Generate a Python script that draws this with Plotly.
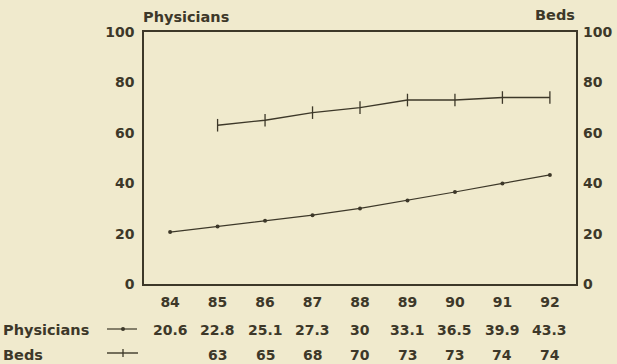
import plotly.graph_objects as go

years = [84, 85, 86, 87, 88, 89, 90, 91, 92]
physicians = [20.6, 22.8, 25.1, 27.3, 30, 33.1, 36.5, 39.9, 43.3]
beds = [None, 63, 65, 68, 70, 73, 73, 74, 74]
physicians_labels = ["20.6", "22.8", "25.1", "27.3", "30", "33.1", "36.5", "39.9", "43.3"]
beds_labels = ["", "63", "65", "68", "70", "73", "73", "74", "74"]
y_ticks = [0, 20, 40, 60, 80, 100]

BG = "#f0eacd"
INK = "#3d3829"
FONT = "DejaVu Sans"

W, H = 617, 364
L, R, T, B = 144, 41, 32, 80
PW, PH = W - L - R, H - T - B


def px(x):
    return (x - L) / PW


def py(y):
    return (H - B - y) / PH


def f(size=14):
    return dict(family=FONT, size=size, color=INK, weight="bold")


fig = go.Figure()
fig.add_trace(go.Scatter(
    x=years, y=physicians, mode="lines+markers", name="Physicians",
    line=dict(color=INK, width=1.2),
    marker=dict(symbol="circle", size=4, color=INK),
))
fig.add_trace(go.Scatter(
    x=years, y=beds, mode="lines+markers", name="Beds", yaxis="y2",
    line=dict(color=INK, width=1.4),
    marker=dict(symbol="line-ns", size=9, line=dict(color=INK, width=1.3)),
))

annotations = []
for yr, p, b in zip(years, physicians_labels, beds_labels):
    annotations.append(dict(x=yr, y=py(330), xref="x", yref="paper", text=p,
                            showarrow=False, xanchor="center", yanchor="middle",
                            font=f(14)))
    if b:
        annotations.append(dict(x=yr, y=py(355), xref="x", yref="paper", text=b,
                                showarrow=False, xanchor="center", yanchor="middle",
                                font=f(14)))

annotations += [
    dict(x=px(1), y=py(330), xref="paper", yref="paper", text="Physicians",
         showarrow=False, xanchor="left", yanchor="middle", font=f(14.5)),
    dict(x=px(1), y=py(355), xref="paper", yref="paper", text="Beds",
         showarrow=False, xanchor="left", yanchor="middle", font=f(14.5)),
    dict(x=px(141), y=py(17), xref="paper", yref="paper", text="Physicians",
         showarrow=False, xanchor="left", yanchor="middle", font=f(14.5)),
    dict(x=px(577), y=py(15), xref="paper", yref="paper", text="Beds",
         showarrow=False, xanchor="right", yanchor="middle", font=f(14.5)),
]

shapes = [
    dict(type="line", xref="paper", yref="paper", x0=px(107), x1=px(137),
         y0=py(329), y1=py(329), line=dict(color=INK, width=1.2)),
    dict(type="circle", xref="paper", yref="paper", x0=px(121), x1=px(125),
         y0=py(327), y1=py(331), fillcolor=INK, line=dict(color=INK, width=0)),
    dict(type="line", xref="paper", yref="paper", x0=px(107), x1=px(138),
         y0=py(353), y1=py(353), line=dict(color=INK, width=1.4)),
    dict(type="line", xref="paper", yref="paper", x0=px(123), x1=px(123),
         y0=py(349), y1=py(357), line=dict(color=INK, width=1.3)),
]

fig.update_layout(
    width=W, height=H,
    margin=dict(l=L, r=R, t=T, b=B, autoexpand=False),
    paper_bgcolor=BG, plot_bgcolor=BG,
    showlegend=False,
    annotations=annotations,
    shapes=shapes,
    xaxis=dict(range=[83.45, 92.55], tickvals=years, ticktext=[str(y) for y in years],
               showgrid=False, zeroline=False, showline=True, mirror=True,
               linecolor=INK, linewidth=1.5, ticks="", tickfont=f(14),
               ticklabelstandoff=4, automargin=False),
    yaxis=dict(range=[0, 100], tickvals=y_ticks, showgrid=False, zeroline=False,
               showline=True, mirror=True, linecolor=INK, linewidth=1.5, ticks="",
               tickfont=f(14), ticklabelstandoff=5, automargin=False),
    yaxis2=dict(range=[0, 100], tickvals=y_ticks, overlaying="y", side="right",
                showgrid=False, zeroline=False, showline=False, ticks="",
                tickfont=f(14), ticklabelstandoff=6, automargin=False),
)

fig.write_html(
    "out.html",
    config={"displayModeBar": False},
    post_script="document.body.style.margin='0px';document.body.style.overflow='hidden';",
)
